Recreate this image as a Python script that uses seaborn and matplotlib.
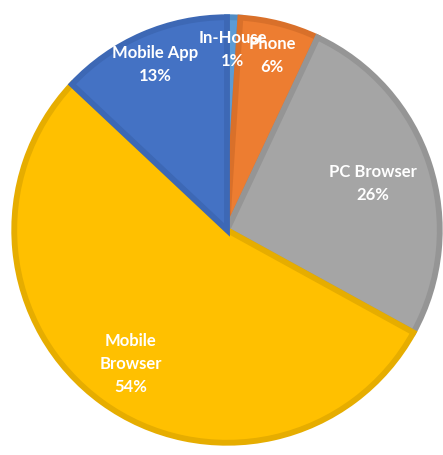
import numpy as np
import matplotlib
matplotlib.use("Agg")
import matplotlib.pyplot as plt
import seaborn as sns

# data
labels = ["In-House", "Phone", "PC Browser", "Mobile\nBrowser", "Mobile App"]
shares = [1, 6, 26, 54, 13]
fill_colors = ["#5B9BD5", "#ED7D31", "#A5A5A5", "#FFC000", "#4472C4"]
edge_colors = ["#4F8CC4", "#D9702A", "#959595", "#E6AD00", "#3D68B5"]
label_dist = [0.84, 0.84, 0.71, 0.76, 0.84]

sns.set_theme(style="white")
plt.rcParams['font.family'] = ['Lato', 'DejaVu Sans']

fig = plt.figure(figsize=(4.43, 4.56), dpi=100)
ax = fig.add_axes([11/443, 9/456, 432/443, 432/456])

pal = sns.color_palette(fill_colors)
wedges, _ = ax.pie(shares, colors=pal, startangle=90, counterclock=False,
                   radius=0.985,
                   wedgeprops=dict(linewidth=4.2, joinstyle="miter"))
for w, ec in zip(wedges, edge_colors):
    w.set_edgecolor(ec)

total = sum(shares)
for w, lab, val, d in zip(wedges, labels, shares, label_dist):
    ang = np.deg2rad((w.theta1 + w.theta2) / 2)
    x, y = d * np.cos(ang), d * np.sin(ang)
    ax.text(x, y, f"{lab}\n{val / total:.0%}", ha="center", va="center",
            color="white", fontsize=12, fontweight="bold", linespacing=1.55)

ax.set_xlim(-1, 1)
ax.set_ylim(-1, 1)
ax.set_aspect("equal")
ax.axis("off")

plt.savefig("out.png", dpi=100)
